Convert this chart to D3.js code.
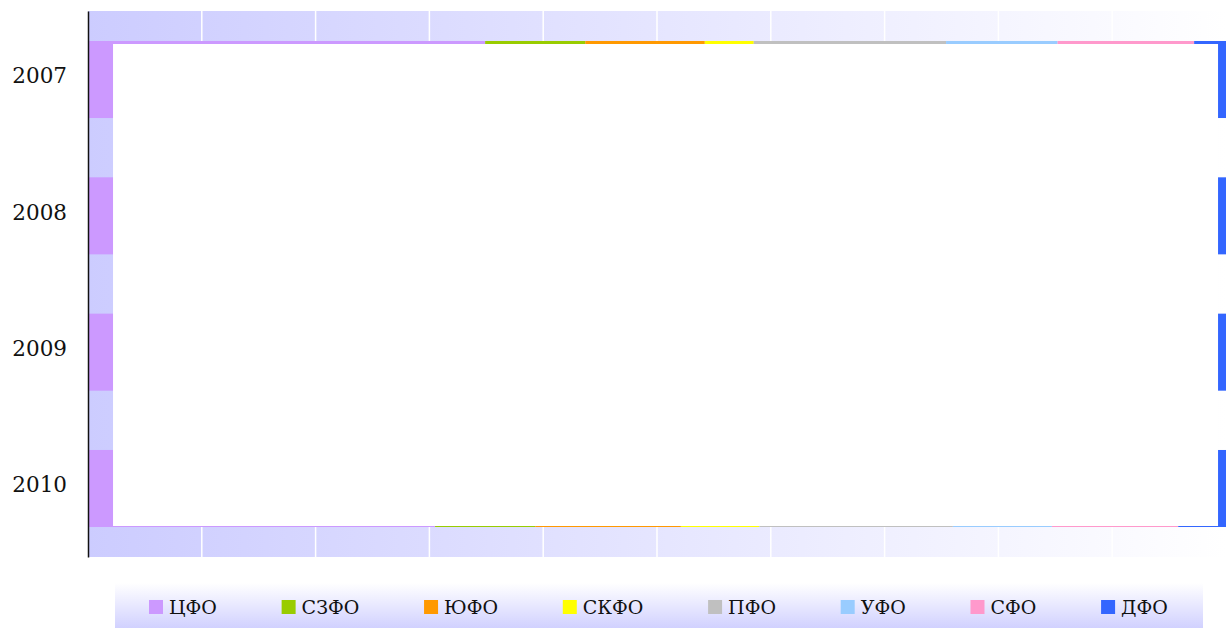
<!DOCTYPE html>
<html>
<head>
<meta charset="utf-8">
<script src="https://cdn.jsdelivr.net/npm/d3@7"></script>
<style>
  html, body { margin: 0; padding: 0; background: #ffffff; }
  svg { display: block; }
  text { font-family: "DejaVu Serif", "Liberation Serif", serif; fill: #111; }
</style>
</head>
<body>
<svg id="chart" width="1230" height="628"></svg>
<script>
// ---- data ----
const years = ["2007", "2008", "2009", "2010"];
const districts = ["ЦФО", "СЗФО", "ЮФО", "СКФО", "ПФО", "УФО", "СФО", "ДФО"];
const colors = ["#cc99ff", "#99cc00", "#ff9900", "#ffff00", "#c0c0c0", "#99ccff", "#ff99cc", "#3366ff"];
const share2007 = [34.9, 8.8, 10.5, 4.3, 16.9, 9.8, 12.0, 2.8];
const share2008 = [34.0, 8.9, 10.8, 4.4, 16.6, 10.2, 11.8, 3.3];
const share2009 = [32.5, 8.8, 11.2, 4.6, 16.8, 9.4, 12.4, 4.3];
const share2010 = [30.5, 8.8, 12.8, 6.9, 17.0, 8.7, 11.1, 4.2];
const xTicks = [0, 10, 20, 30, 40, 50, 60, 70, 80, 90, 100];
// overlay panel extent (in data units) that hides the inner part of the bars
const overlayFrom = 2.2, overlayTo = 99.3;

const rows = [share2007, share2008, share2009, share2010].map((vals, i) => {
  const o = { year: years[i] };
  districts.forEach((d, j) => o[d] = vals[j]);
  return o;
});

// ---- layout ----
const W = 1230, H = 628;
const margin = { left: 88, right: 4, top: 11, bottom: 71 };
const svg = d3.select("#chart");
const defs = svg.append("defs");

const x = d3.scaleLinear().domain([0, 100]).range([margin.left, W - margin.right]);
const y = d3.scaleBand().domain(years).range([margin.top, H - margin.bottom])
  .paddingInner(0.435).paddingOuter(0.22);
const color = d3.scaleOrdinal().domain(districts).range(colors);

// background gradient
const bg = defs.append("linearGradient").attr("id", "bgGrad")
  .attr("x1", "0%").attr("x2", "100%").attr("y1", "0%").attr("y2", "0%");
bg.append("stop").attr("offset", "0%").attr("stop-color", "#ccccff");
bg.append("stop").attr("offset", "100%").attr("stop-color", "#ffffff");

svg.append("rect")
  .attr("x", x(0)).attr("y", margin.top)
  .attr("width", x(100) - x(0)).attr("height", H - margin.bottom - margin.top)
  .attr("fill", "url(#bgGrad)");

// gridlines
svg.append("g").selectAll("line").data(xTicks.slice(1, -1)).join("line")
  .attr("x1", d => x(d)).attr("x2", d => x(d))
  .attr("y1", margin.top).attr("y2", H - margin.bottom)
  .attr("stroke", "#ffffff").attr("stroke-width", 1.5);

// stacked bars
const stack = d3.stack().keys(districts)(rows);
svg.append("g").selectAll("g").data(stack).join("g")
  .attr("fill", d => color(d.key))
  .selectAll("rect").data(d => d).join("rect")
  .attr("x", d => x(d[0]))
  .attr("width", d => x(d[1]) - x(d[0]))
  .attr("y", d => y(d.data.year))
  .attr("height", y.bandwidth());

// white overlay panel
svg.append("rect")
  .attr("x", x(overlayFrom))
  .attr("y", y(years[0]) + 3)
  .attr("width", x(overlayTo) - x(overlayFrom))
  .attr("height", y(years[years.length - 1]) + y.bandwidth() - 1 - (y(years[0]) + 3))
  .attr("fill", "#ffffff");

// y axis
const yAxis = svg.append("g").attr("transform", `translate(${margin.left},0)`)
  .call(d3.axisLeft(y).tickSize(0).tickPadding(21));
yAxis.select(".domain").attr("stroke", "#111").attr("stroke-width", 1.5);
yAxis.selectAll("text")
  .style("font-family", '"DejaVu Serif", serif')
  .style("font-size", "21.5px").attr("fill", "#111")
  .attr("dy", "0.18em");

// legend
const legX0 = 115, legX1 = 1203, legY = 583;
const lg = defs.append("linearGradient").attr("id", "legGrad")
  .attr("x1", "0%").attr("x2", "0%").attr("y1", "0%").attr("y2", "100%");
lg.append("stop").attr("offset", "0%").attr("stop-color", "#ffffff");
lg.append("stop").attr("offset", "100%").attr("stop-color", "#ccccff");
svg.append("rect").attr("x", legX0).attr("y", legY)
  .attr("width", legX1 - legX0).attr("height", 50)
  .attr("fill", "url(#legGrad)");

const legend = svg.append("g");
let cx = 149;
districts.forEach((d, i) => {
  const g = legend.append("g").attr("transform", `translate(${cx},600)`);
  g.append("rect").attr("width", 14).attr("height", 14).attr("fill", color(d));
  const t = g.append("text").attr("x", 20).attr("y", 13.5)
    .style("font-size", "19px").text(d);
  cx += 20 + t.node().getComputedTextLength() + 64.7;
});
</script>
</body>
</html>
